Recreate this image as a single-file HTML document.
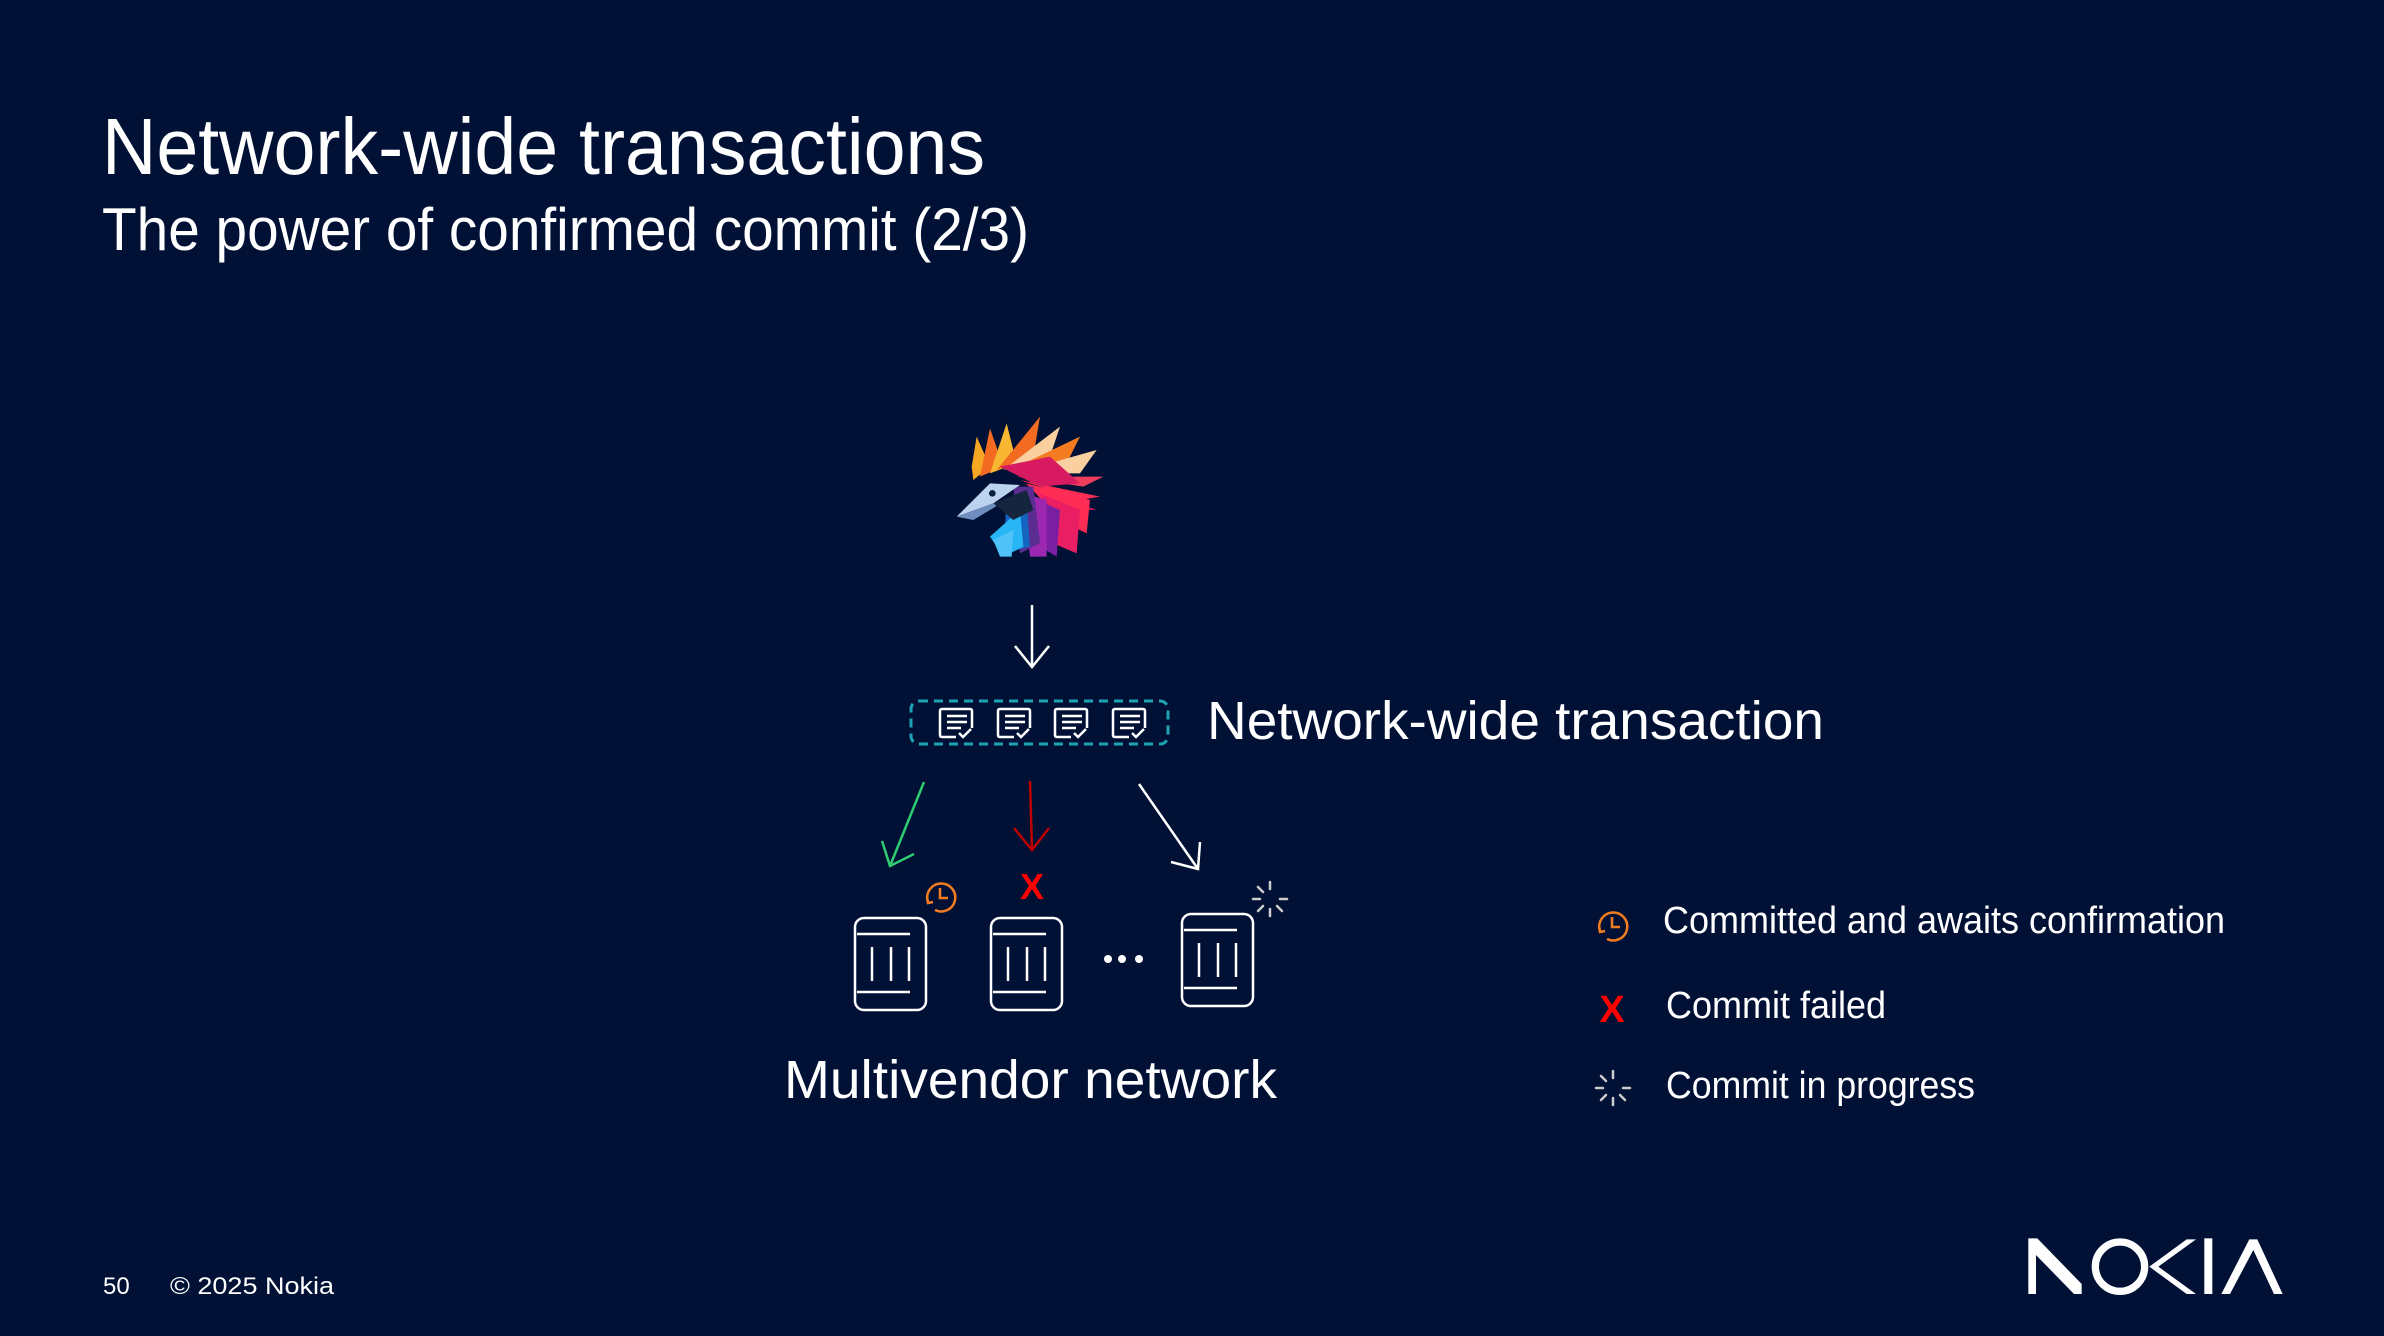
<!DOCTYPE html>
<html><head><meta charset="utf-8"><style>
html,body{margin:0;padding:0;background:#001135;}
body{width:2384px;height:1336px;overflow:hidden;position:relative;}
svg{position:absolute;left:0;top:0;}
text{font-family:"Liberation Sans",sans-serif;fill:#fff;}
</style></head><body>
<svg width="2384" height="1336" viewBox="0 0 2384 1336">
<rect width="2384" height="1336" fill="#001135"/>
<text x="102" y="174" font-size="80" textLength="883" lengthAdjust="spacingAndGlyphs">Network-wide transactions</text>
<text x="102" y="250" font-size="60" textLength="927" lengthAdjust="spacingAndGlyphs">The power of confirmed commit (2/3)</text>

<!-- bird -->
<g transform="translate(940,400) scale(0.3333)">
<polygon points="100,240 95,200 110,110 150,200" fill="#f5a623"/>
<polygon points="120,230 150,85 190,200" fill="#f26b21"/>
<polygon points="150,220 200,70 230,190" fill="#f7b733"/>
<polygon points="170,210 300,50 280,170" fill="#f26b21"/>
<polygon points="190,210 360,80 330,170" fill="#fbd0a0"/>
<polygon points="210,210 420,110 380,190" fill="#f47c20"/>
<polygon points="220,220 470,150 420,220" fill="#fbd0a0"/>
<polygon points="230,230 490,230 430,260" fill="#ef3e5c"/>
<polygon points="240,240 480,290 420,300" fill="#ff2d55"/>
<polygon points="250,250 470,330 400,330" fill="#c2185b"/>
<polygon points="180,200 330,170 420,250 300,260" fill="#d81b60"/>
<polygon points="260,250 450,300 440,400 360,360" fill="#ff2d55"/>
<polygon points="300,280 420,330 410,460 340,430" fill="#e91e63"/>
<polygon points="290,300 360,330 350,470 300,440" fill="#7b1fa2"/>
<polygon points="250,280 320,300 320,470 270,470" fill="#9c27b0"/>
<polygon points="220,260 280,260 300,430 240,460" fill="#5c2d91"/>
<polygon points="200,300 260,300 270,440 190,460" fill="#1565c0"/>
<polygon points="150,410 240,330 250,440 190,470" fill="#29b6f6"/>
<polygon points="160,420 220,390 215,470 180,470" fill="#4fc3f7"/>
<polygon points="50,350 150,250 240,255 160,310" fill="#bcd3f0"/>
<polygon points="50,350 160,310 200,300 100,360" fill="#6f8ebf"/>
<polygon points="160,310 260,270 280,330 220,360" fill="#14253d"/>
<circle cx="157" cy="280" r="10" fill="#0a1f40"/>
</g>

<!-- down arrow -->
<g stroke="#fff" stroke-width="2.5" fill="none">
<line x1="1032" y1="605" x2="1032" y2="667"/>
<polyline points="1015,646 1032,667 1049,646"/>
</g>

<!-- dashed box -->
<rect x="911" y="701" width="257" height="43" rx="8" fill="none" stroke="#1ea3b4" stroke-width="3" stroke-dasharray="9,6"/>
<g stroke="#fff" stroke-width="2.5" fill="none">
<g id="doc">
<path d="M956 737 L942 737 Q940 737 940 735 L940 711 Q940 709 942 709 L970 709 Q972 709 972 711 L972 728"/>
<line x1="947" y1="716" x2="967" y2="716"/><line x1="947" y1="722" x2="967" y2="722"/><line x1="947" y1="728" x2="961" y2="728"/>
<polyline points="959,733 963,737 971,729"/>
</g>
<use href="#doc" x="58"/><use href="#doc" x="115"/><use href="#doc" x="173"/>
</g>

<text x="1207" y="739" font-size="54" textLength="617" lengthAdjust="spacingAndGlyphs">Network-wide transaction</text>

<!-- branch arrows -->
<g stroke-width="2.5" fill="none">
<g stroke="#2ecc71"><line x1="924" y1="782" x2="890" y2="866"/><polyline points="882,841 890,866 914,854"/></g>
<g stroke="#c00000"><line x1="1030" y1="781" x2="1032" y2="850"/><polyline points="1014,828 1032,850 1049,828"/></g>
<g stroke="#fff"><line x1="1139" y1="784" x2="1198" y2="869"/><polyline points="1171,862 1198,869 1200,842"/></g>
</g>

<!-- devices -->
<g stroke="#fff" stroke-width="2.5" fill="none">
<g id="dev">
<rect x="855" y="918" width="71" height="92" rx="9"/>
<line x1="857" y1="934" x2="910" y2="934"/><line x1="857" y1="992" x2="910" y2="992"/>
<line x1="872" y1="947" x2="872" y2="981"/><line x1="891" y1="947" x2="891" y2="981"/><line x1="909" y1="947" x2="909" y2="981"/>
</g>
<use href="#dev" x="136"/><use href="#dev" x="327" y="-4"/>
</g>
<g fill="#fff"><circle cx="1108" cy="959" r="4"/><circle cx="1122" cy="959" r="4"/><circle cx="1139" cy="959" r="4"/></g>

<!-- status icons -->
<g id="clk" stroke="#f47c20" stroke-width="2.5" fill="none">
<path d="M928 902 A14 14 0 1 1 935 910"/>
<polyline points="940,888 940,898 948,898"/>
<polyline points="927,897 928,903 933,902"/>
</g>
<text x="1032" y="899" font-size="36" font-weight="bold" style="fill:#f00" text-anchor="middle">X</text>
<g id="spin" stroke="#ccc" stroke-width="2.5" stroke-linecap="round">
<line x1="1270" y1="882" x2="1270" y2="889"/><line x1="1270" y1="909" x2="1270" y2="916"/>
<line x1="1253" y1="899" x2="1260" y2="899"/><line x1="1280" y1="899" x2="1287" y2="899"/>
<line x1="1258" y1="887" x2="1263" y2="892"/><line x1="1277" y1="906" x2="1282" y2="911"/>
<line x1="1258" y1="911" x2="1263" y2="906"/>
</g>

<text x="784" y="1098" font-size="54" textLength="493" lengthAdjust="spacingAndGlyphs">Multivendor network</text>

<!-- legend -->
<use href="#clk" x="672" y="29"/>
<text x="1663" y="933" font-size="38" textLength="562" lengthAdjust="spacingAndGlyphs">Committed and awaits confirmation</text>
<text x="1612" y="1022" font-size="38" font-weight="bold" style="fill:#f00" text-anchor="middle">X</text>
<text x="1666" y="1018" font-size="38" textLength="220" lengthAdjust="spacingAndGlyphs">Commit failed</text>
<use href="#spin" x="343" y="189"/>
<text x="1666" y="1098" font-size="38" textLength="309" lengthAdjust="spacingAndGlyphs">Commit in progress</text>

<!-- footer -->
<text x="103" y="1294" font-size="24">50</text>
<text x="170" y="1294" font-size="24" textLength="164" lengthAdjust="spacingAndGlyphs">© 2025 Nokia</text>

<!-- NOKIA logo -->
<g transform="translate(2010,1220) scale(0.3333)" fill="#fff">
<polygon points="55,55 82,55 215,192 215,222 192,222 78,105 78,222 55,222"/>
<circle cx="330" cy="140" r="74" fill="none" stroke="#fff" stroke-width="22"/>
<polygon points="530,58 558,58 445,140 558,222 530,222 418,140"/>
<rect x="583" y="55" width="24" height="167"/>
<polygon points="718,58 742,58 818,222 792,222 730,90 660,222 634,222"/>
</g>
</svg>
</body></html>
